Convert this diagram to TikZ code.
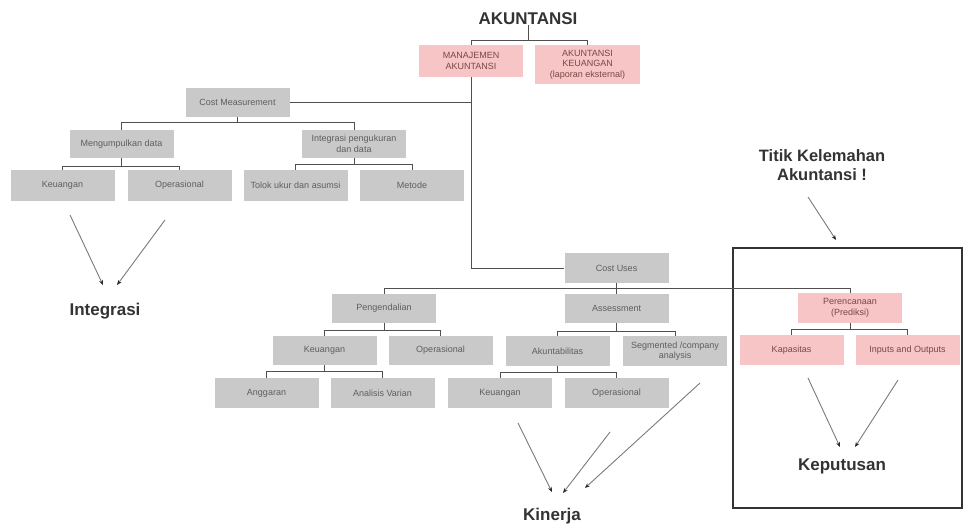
\documentclass[tikz,border=0pt]{standalone}
\usepackage{fontspec}
\setmainfont{Liberation Sans}
\usetikzlibrary{arrows.meta}
\definecolor{boxgray}{HTML}{C9C9C9}
\definecolor{boxpink}{HTML}{F7C5C5}
\definecolor{txtgray}{HTML}{5E5E5E}
\definecolor{pinktxt}{HTML}{7A4646}
\definecolor{linegray}{HTML}{505050}
\definecolor{titlegray}{HTML}{333333}
\definecolor{arrowgray}{HTML}{7A7A7A}
\tikzset{
  gbox/.style={fill=boxgray, draw=none, minimum width=104pt, minimum height=30pt,
    inner sep=1pt, align=center, font=\fontsize{9}{10.5}\selectfont, text=txtgray},
  pbox/.style={gbox, fill=boxpink, text=pinktxt},
  conn/.style={draw=linegray, line width=0.8pt},
  ptr/.style={draw=arrowgray, line width=0.9pt, -{Stealth[length=5pt,width=4pt,color=black!85]}},
  bigtitle/.style={font=\bfseries\fontsize{17}{19}\selectfont, text=titlegray, align=center, inner sep=0pt}
}
\begin{document}
\begin{tikzpicture}[x=1pt, y=-1pt]
\path[use as bounding box] (0,0) rectangle (963,524);

% titles
\node[bigtitle, anchor=base] (akun) at (528,25) {AKUNTANSI};
\node[bigtitle, anchor=base] (integ) at (105,315) {Integrasi};
\node[bigtitle, anchor=base] (kin) at (552,520) {Kinerja};
\node[bigtitle, anchor=base] (kep) at (842,470) {Keputusan};
\node[bigtitle, font=\bfseries\fontsize{16.5}{19}\selectfont] (titik) at (822,165) {Titik Kelemahan\\Akuntansi !};

% top level
\node[pbox, minimum width=104pt, minimum height=32pt] (mj) at (471,61) {MANAJEMEN\\AKUNTANSI};
\node[pbox, minimum width=105pt, minimum height=39pt] (ak) at (587.5,64.5) {AKUNTANSI\\KEUANGAN\\(laporan eksternal)};

% cost measurement tree
\node[gbox, minimum height=29pt] (cm) at (237.5,102.5) {Cost Measurement};
\node[gbox, minimum height=28pt] (mg) at (121.5,144) {Mengumpulkan data};
\node[gbox, minimum height=28pt] (ip) at (354,144) {Integrasi pengukuran\\dan data};
\node[gbox, minimum height=31pt] (k1) at (62.5,185.5) {Keuangan};
\node[gbox, minimum height=31pt] (o1) at (179.5,185.5) {Operasional};
\node[gbox, minimum height=31pt] (tu) at (295.5,185.5) {Tolok ukur dan asumsi};
\node[gbox, minimum height=31pt] (me) at (412,185.5) {Metode};

% cost uses tree
\node[gbox] (cu) at (616.5,268) {Cost Uses};
\node[gbox, minimum height=29pt] (pg) at (384,308.5) {Pengendalian};
\node[gbox, minimum height=29pt] (as) at (616.5,308.5) {Assessment};
\node[pbox] (pr) at (850,308) {Perencanaan\\(Prediksi)};
\node[gbox, minimum height=29pt] (k2) at (324.5,350.5) {Keuangan};
\node[gbox, minimum height=29pt] (o2) at (440.5,350.5) {Operasional};
\node[gbox] (ab) at (557.5,351) {Akuntabilitas};
\node[gbox] (sg) at (675,351) {Segmented /company\\analysis};
\node[gbox] (ag) at (266.5,393) {Anggaran};
\node[gbox] (av) at (382.5,393) {Analisis Varian};
\node[gbox] (k3) at (500,393) {Keuangan};
\node[gbox] (o3) at (616.5,393) {Operasional};
\node[pbox] (kp) at (791.5,350) {Kapasitas};
\node[pbox] (io) at (907.5,350) {Inputs and Outputs};

% frame
\draw[draw=titlegray, line width=2pt] (733,248) rectangle (962,508);

% connectors
\draw[conn] (akun.south) -- (akun.south |- 0,40);
\draw[conn] (mj.north) |- (ak.north |- 0,40) -- (ak.north);
\draw[conn] (mj.south) |- (cu.west);
\draw[conn] (cm.east) -- (cm.east -| mj.south);

\draw[conn] (cm.south) -- (cm.south |- 0,122);
\draw[conn] (mg.north) |- (ip.north |- 0,122) -- (ip.north);
\draw[conn] (mg.south) -- (mg.south |- 0,166);
\draw[conn] (k1.north) |- (o1.north |- 0,166) -- (o1.north);
\draw[conn] (ip.south) -- (ip.south |- 0,164);
\draw[conn] (tu.north) |- (me.north |- 0,164) -- (me.north);

\draw[conn] (cu.south) -- (cu.south |- 0,288);
\draw[conn] (pg.north) |- (pr.north |- 0,288) -- (pr.north);
\draw[conn] (as.north) -- (as.north |- 0,288);

\draw[conn] (pg.south) -- (pg.south |- 0,330);
\draw[conn] (k2.north) |- (o2.north |- 0,330) -- (o2.north);
\draw[conn] (k2.south) -- (k2.south |- 0,371);
\draw[conn] (ag.north) |- (av.north |- 0,371) -- (av.north);

\draw[conn] (as.south) -- (as.south |- 0,331);
\draw[conn] (ab.north) |- (sg.north |- 0,331) -- (sg.north);
\draw[conn] (ab.south) -- (ab.south |- 0,372);
\draw[conn] (k3.north) |- (o3.north |- 0,372) -- (o3.north);

\draw[conn] (pr.south) -- (pr.south |- 0,329);
\draw[conn] (kp.north) |- (io.north |- 0,329) -- (io.north);

% pointer arrows
\coordinate (ia1) at (70,215);  \coordinate (ih1) at (103,285);
\coordinate (ia2) at (165,220); \coordinate (ih2) at (117,285);
\coordinate (ta)  at (808,197); \coordinate (th)  at (836,240);
\coordinate (ka1) at (518,423); \coordinate (kh1) at (552,492);
\coordinate (ka2) at (610,432); \coordinate (kh2) at (563,493);
\coordinate (ka3) at (700,383); \coordinate (kh3) at (585,488);
\coordinate (pa1) at (808,378); \coordinate (ph1) at (840,447);
\coordinate (pa2) at (898,380); \coordinate (ph2) at (855,447);

\draw[ptr] (ia1) -- (ih1);
\draw[ptr] (ia2) -- (ih2);
\draw[ptr] (ta) -- (th);
\draw[ptr] (ka1) -- (kh1);
\draw[ptr] (ka2) -- (kh2);
\draw[ptr] (ka3) -- (kh3);
\draw[ptr] (pa1) -- (ph1);
\draw[ptr] (pa2) -- (ph2);
\end{tikzpicture}
\end{document}
